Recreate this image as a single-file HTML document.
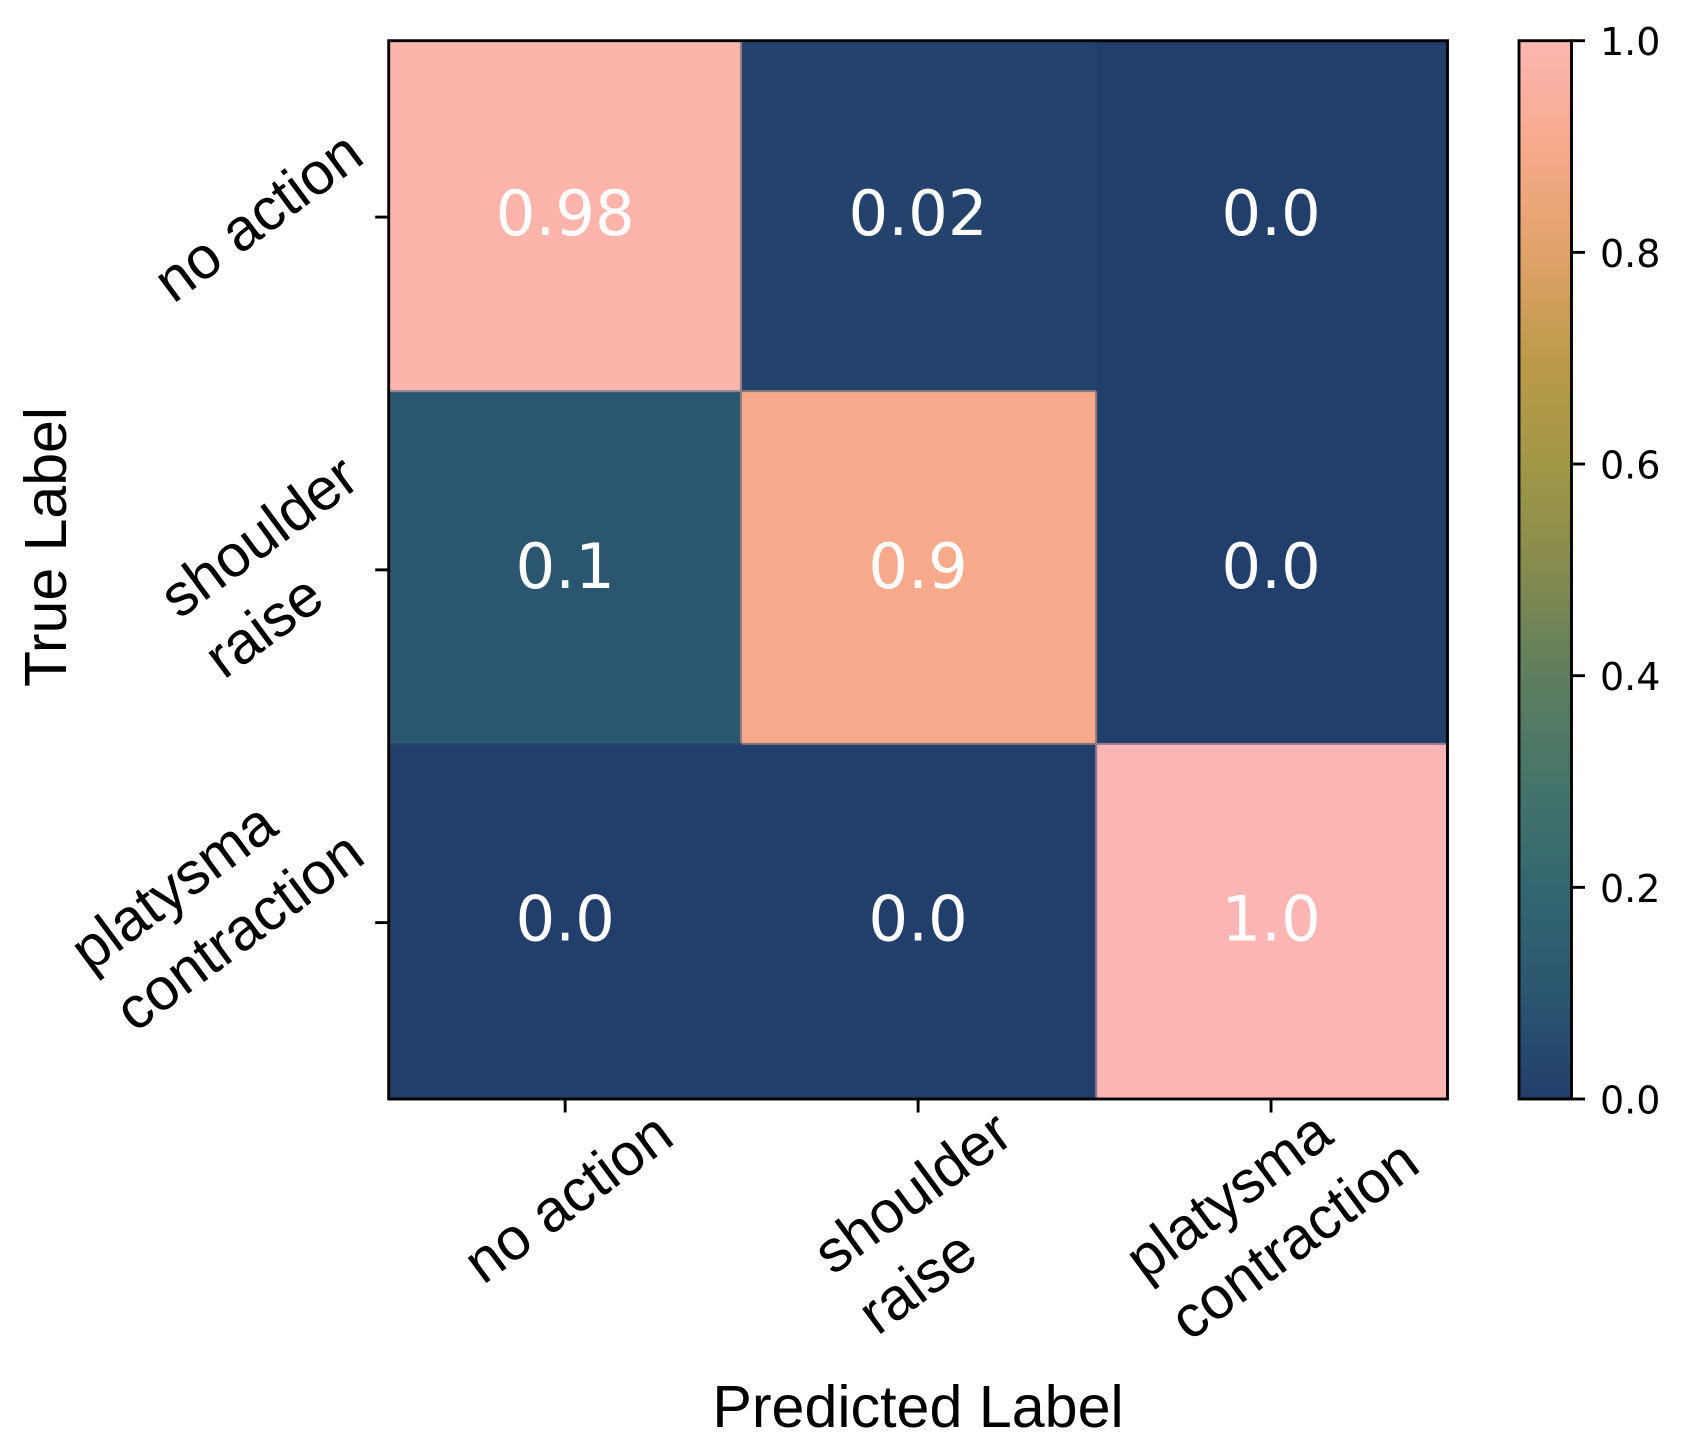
<!DOCTYPE html>
<html>
<head>
<meta charset="utf-8">
<title>Confusion matrix</title>
<style>
html,body{margin:0;padding:0;background:#fff;}
svg{display:block;}
text{white-space:pre;}
</style>
</head>
<body>
<svg id="chart" xmlns="http://www.w3.org/2000/svg" width="1689" height="1453" viewBox="0 0 1689 1453">
<rect width="1689" height="1453" fill="#ffffff"/>
<text x="918" y="1427" text-anchor="middle" font-family="'Liberation Sans',sans-serif" font-size="59.2" fill="#000">Predicted Label</text>
<text transform="translate(66,547) rotate(-90)" text-anchor="middle" font-family="'Liberation Sans',sans-serif" font-size="59" fill="#000">True Label</text>
</svg>
<script>
const categories = [["no action"], ["shoulder", "raise"], ["platysma", "contraction"]];
const matrixRows = [
  [0.98, 0.02, 0.0],
  [0.1, 0.9, 0.0],
  [0.0, 0.0, 1.0]
];
const colorbarTicks = [0.0, 0.2, 0.4, 0.6, 0.8, 1.0];
const colormapColors = ["#223e6b","#2b5670","#336770","#45756a","#5e7e5e","#858b4e","#a19746","#bb9a4a","#e2a26a","#f6aa8b","#fdb6b3"];

const NS = "http://www.w3.org/2000/svg";
const svg = document.getElementById("chart");
const plot = {left: 388.7, right: 1447.5, top: 40.7, bottom: 1099};
const bar = {left: 1519, right: 1571.5, top: 40.7, bottom: 1099};
const SANS = "'Liberation Sans',sans-serif";
const DEJAVU = "'DejaVu Sans',sans-serif";

function make(tag, attrs, parent) {
  const el = document.createElementNS(NS, tag);
  for (const k in attrs) el.setAttribute(k, attrs[k]);
  (parent || svg).appendChild(el);
  return el;
}
function bandX(i) { return plot.left + (plot.right - plot.left) * i / categories.length; }
function bandY(i) { return plot.top + (plot.bottom - plot.top) * i / categories.length; }
/* image pixels snap slightly off the tick bands */
function cellEdgeX(i) { return bandX(i) + (i === 2 ? 1.6 : i === 1 ? -0.6 : 0); }
function cellEdgeY(i) { return bandY(i) - (i === 1 || i === 2 ? 2.3 : 0); }
function barY(v) { return bar.bottom - (bar.bottom - bar.top) * v; }
function hexToRgb(h) { return [1, 3, 5].map(function (p) { return parseInt(h.substr(p, 2), 16); }); }
function rgbFor(v) {
  const t = Math.max(0, Math.min(1, v)) * (colormapColors.length - 1);
  const i = Math.min(Math.floor(t), colormapColors.length - 2);
  const a = hexToRgb(colormapColors[i]);
  const b = hexToRgb(colormapColors[i + 1]);
  const f = t - i;
  return a.map(function (c, k) { return Math.round(c + (b[k] - c) * f); });
}
function css(rgb) { return "rgb(" + rgb.join(",") + ")"; }
function colorFor(v) { return css(rgbFor(v)); }
function seamColor(u, v) {
  const a = rgbFor(u), b = rgbFor(v);
  return css(a.map(function (c, k) { return Math.round((c + b[k]) / 2); }));
}
function formatValue(v) { return Number.isInteger(v) ? v.toFixed(1) : String(v); }

/* heatmap cells */
matrixRows.forEach(function (row, r) {
  row.forEach(function (v, c) {
    const x = cellEdgeX(c), y = cellEdgeY(r);
    const cell = make("rect", {x: x - 0.5, y: y - 0.5, width: cellEdgeX(c + 1) - x + 1, height: cellEdgeY(r + 1) - y + 1, fill: colorFor(v)});
    
    
  });
});
/* blended seams between neighbouring cells */
matrixRows.forEach(function (row, r) {
  row.forEach(function (v, c) {
    if (c + 1 < row.length) {
      const sx = cellEdgeX(c + 1);
      const sv = make("line", {x1: sx, x2: sx, y1: cellEdgeY(r), y2: cellEdgeY(r + 1), stroke: seamColor(v, row[c + 1]), "stroke-width": 2});
      
      
    }
    if (r + 1 < matrixRows.length) {
      const sy = cellEdgeY(r + 1);
      const sh = make("line", {x1: cellEdgeX(c), x2: cellEdgeX(c + 1), y1: sy, y2: sy, stroke: seamColor(v, matrixRows[r + 1][c]), "stroke-width": 2});
      
      
    }
  });
});
/* cell value labels */
matrixRows.forEach(function (row, r) {
  row.forEach(function (v, c) {
    const label = make("text", {x: (bandX(c) + bandX(c + 1)) / 2, y: (bandY(r) + bandY(r + 1)) / 2 + 18, "text-anchor": "middle", "font-family": DEJAVU, "font-size": 62.5, fill: "#ffffff"});
    label.textContent = formatValue(v);
    
    
  });
});

/* plot frame */
const frame = make("rect", {x: plot.left, y: plot.top, width: plot.right - plot.left, height: plot.bottom - plot.top, fill: "none", stroke: "#000", "stroke-width": 2.9});



/* category ticks and rotated labels (lines left-aligned, positioned by ink extent) */
const ANGLE = 36.5, SIN = Math.sin(ANGLE * Math.PI / 180), COS = Math.cos(ANGLE * Math.PI / 180);
const FONT = 59.3, LINE = 75;
/* small optical corrections for the estimated ink extent of each label */
function inkNudge(first, axis) {
  if (axis === "x") {
    if (first === "shoulder") return [-6.5, 0];
    if (first === "no action") return [2, 1.5];
    return [0, 0];
  }
  if (first === "shoulder") return [-5.5, -4.5];
  if (first === "platysma") return [0, -7];
  return [-1, -1.5];
}
function drawCategoryLabel(lines, axis, tick) {
  const g = make("g", {});
  
  
  const nodes = lines.map(function (s, i) {
    const t = make("text", {x: 0, y: (i - (lines.length - 1) / 2) * LINE, "font-family": SANS, "font-size": FONT, fill: "#000"}, g);
    t.textContent = s;
    return t;
  });
  let maxW = 0;
  const widths = nodes.map(function (t) {
    const w = t.getComputedTextLength();
    maxW = Math.max(maxW, w);
    return w;
  });
  let minX = Infinity, maxX = -Infinity, minY = Infinity, maxY = -Infinity;
  nodes.forEach(function (t, i) {
    t.setAttribute("x", -maxW / 2);
    const x0 = -maxW / 2, x1 = x0 + widths[i];
    const base = (i - (lines.length - 1) / 2) * LINE;
    const top = base - 0.73 * FONT;
    const bottom = base + (/[pgyjq]/.test(lines[i]) ? 0.21 : 0.01) * FONT;
    [[x0, top], [x1, top], [x0, bottom], [x1, bottom]].forEach(function (p) {
      const rx = p[0] * COS + p[1] * SIN;
      const ry = -p[0] * SIN + p[1] * COS;
      minX = Math.min(minX, rx); maxX = Math.max(maxX, rx);
      minY = Math.min(minY, ry); maxY = Math.max(maxY, ry);
    });
  });
  let cx, cy;
  if (axis === "x") {
    cx = tick - (minX + maxX) / 2;
    cy = 1106 - minY;
  } else {
    cx = 368 - maxX;
    cy = tick - (minY + maxY) / 2;
  }
  const n = inkNudge(lines[0], axis);
  g.setAttribute("transform", "translate(" + (cx + n[0]) + "," + (cy + n[1]) + ") rotate(-" + ANGLE + ")");
}
categories.forEach(function (lines, i) {
  const xt = (bandX(i) + bandX(i + 1)) / 2;
  const yt = (bandY(i) + bandY(i + 1)) / 2;
  const tx = make("line", {x1: xt, x2: xt, y1: plot.bottom, y2: plot.bottom + 13.5, stroke: "#000", "stroke-width": 2.9});
  
  
  const ty = make("line", {x1: plot.left - 13.5, x2: plot.left, y1: yt, y2: yt, stroke: "#000", "stroke-width": 2.9});
  
  
  drawCategoryLabel(lines, "x", xt);
  drawCategoryLabel(lines, "y", yt);
});

/* colorbar */
const defs = make("defs", {});
const grad = make("linearGradient", {id: "cbar", x1: 0, y1: 1, x2: 0, y2: 0}, defs);
colormapColors.forEach(function (col, i) {
  make("stop", {offset: i / (colormapColors.length - 1), "stop-color": col}, grad);
});
const cb = make("rect", {x: bar.left, y: bar.top, width: bar.right - bar.left, height: bar.bottom - bar.top, fill: "url(#cbar)", stroke: "#000", "stroke-width": 2.9});


colorbarTicks.forEach(function (v) {
  const y = barY(v);
  const t = make("line", {x1: bar.right, x2: bar.right + 13.5, y1: y, y2: y, stroke: "#000", "stroke-width": 2.9});
  
  
  const l = make("text", {x: 1600, y: y + 14.5, "font-family": DEJAVU, "font-size": 38, fill: "#000"});
  l.textContent = v.toFixed(1);
  
  
});
</script>
</body>
</html>
